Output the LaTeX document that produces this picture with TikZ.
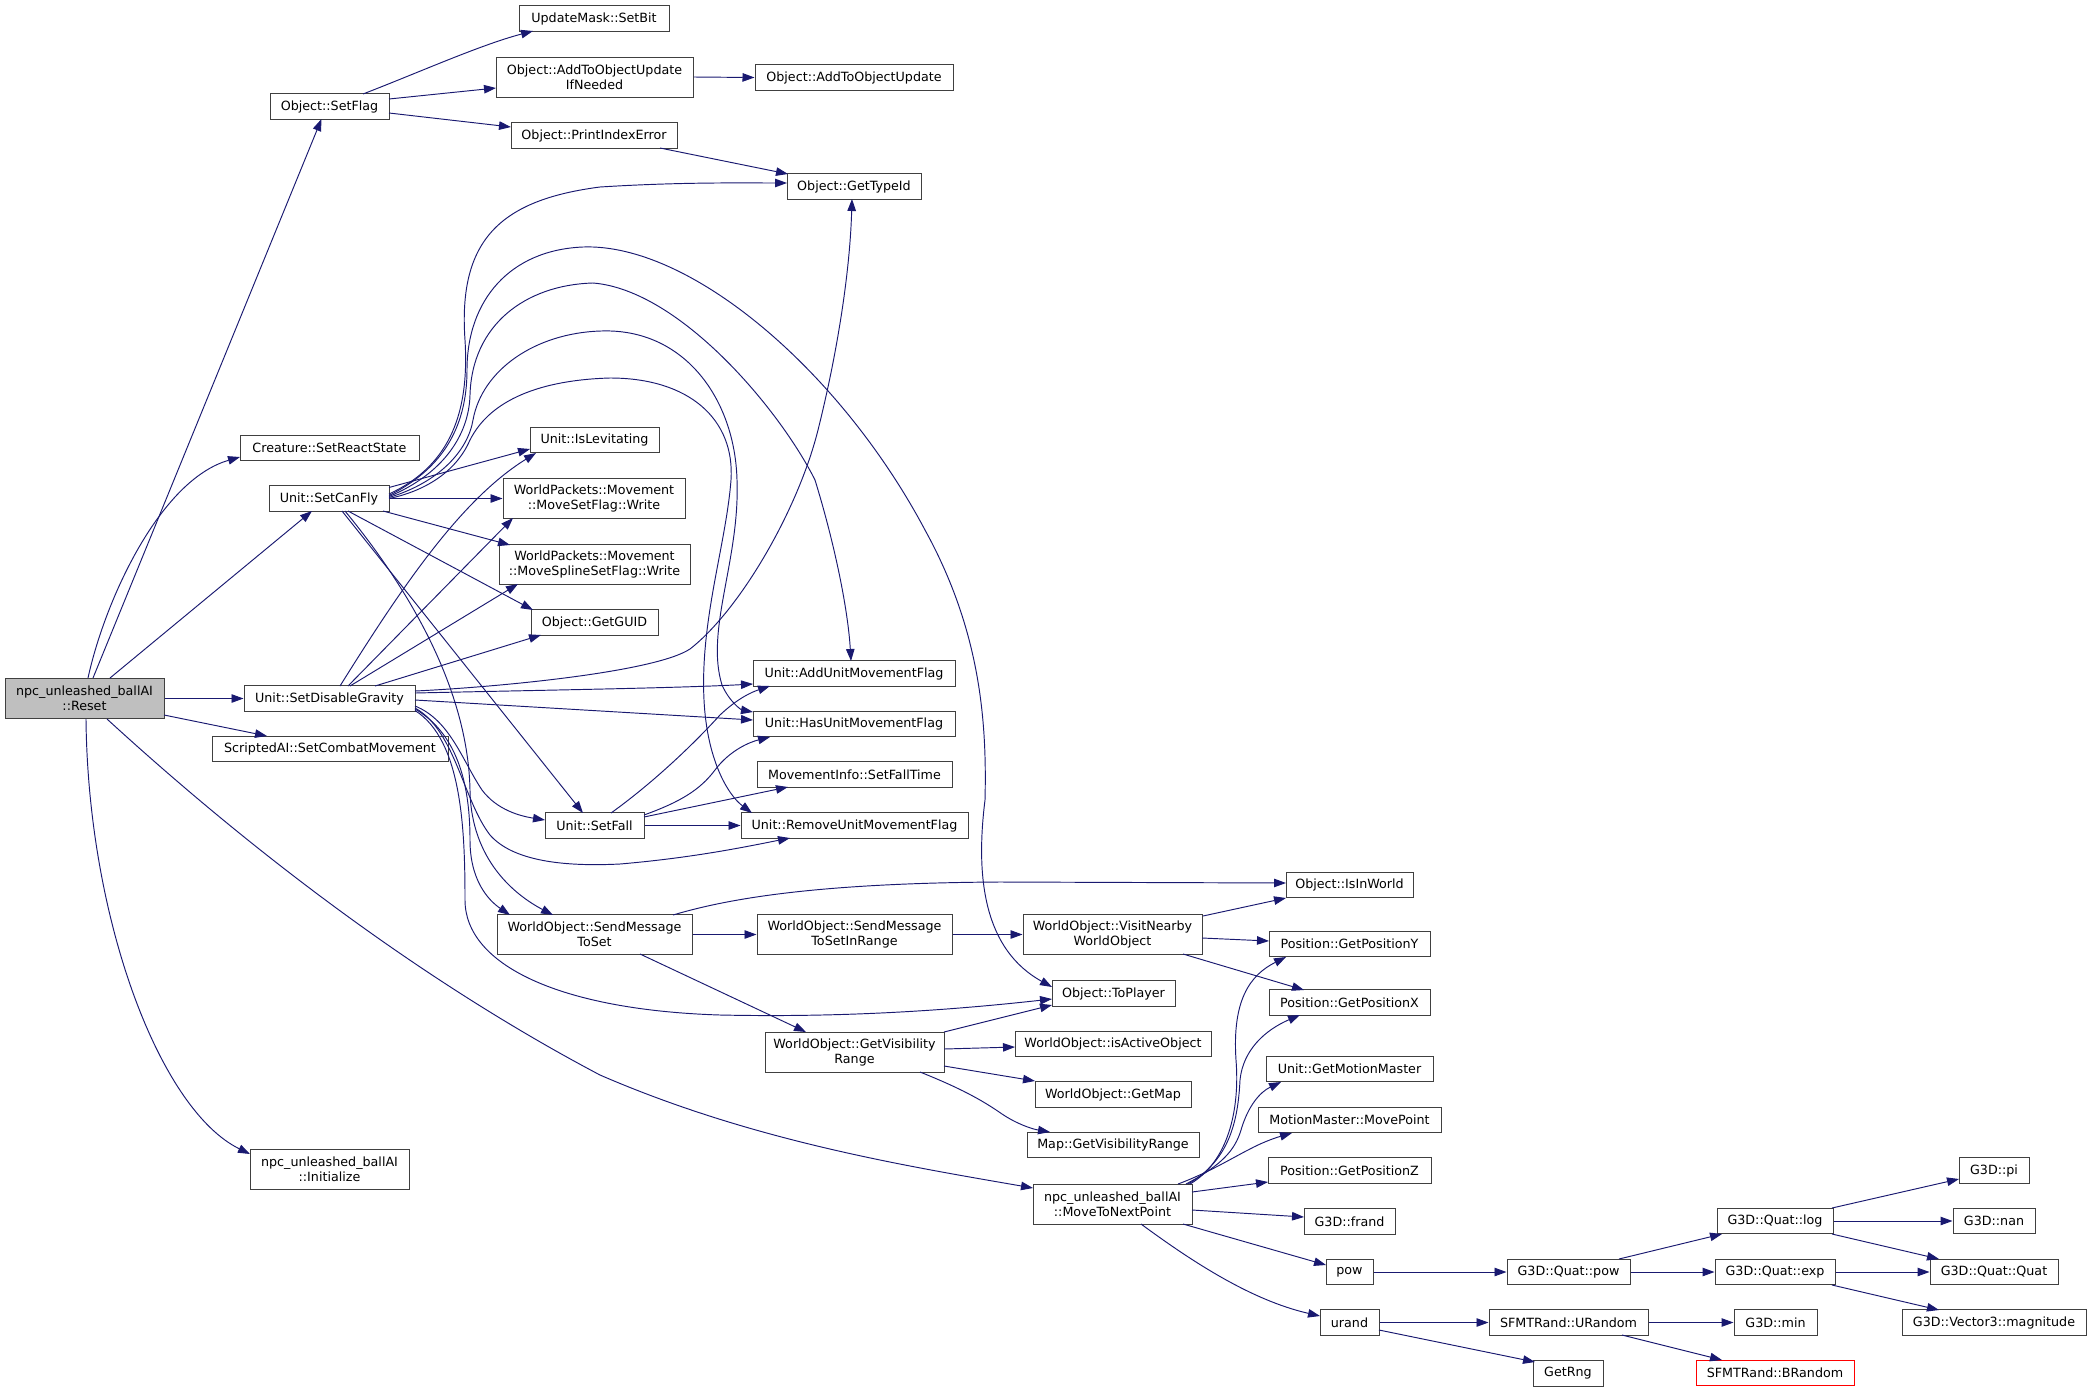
\documentclass[tikz,border=0pt]{standalone}
\usepackage{fontspec}
\setmainfont{DejaVu Sans}
\usetikzlibrary{arrows.meta}
\definecolor{edgecol}{HTML}{191970}
\definecolor{boxcol}{HTML}{404040}
\definecolor{rootfill}{HTML}{BFBFBF}
\tikzset{
 fn/.style={draw=boxcol, line width=1pt, inner sep=0pt, minimum height=25.5pt, font=\fontsize{12.7}{15}\selectfont, align=center, anchor=center, text=black},
 fntwo/.style={fn, minimum height=40pt},
 edge/.style={draw=edgecol, line width=0.95pt, -{Triangle[length=12pt,width=8.5pt]}},
}
\begin{document}
\begin{tikzpicture}[x=1pt,y=-1pt]
\useasboundingbox (0,0) rectangle (2092,1392);
% nodes
\node[fntwo, fill=rootfill, minimum width=159pt] (reset) at (84.5,698.5) {npc\_unleashed\_ballAI\\::Reset};
\node[fn, minimum width=119pt] (setflag) at (329.5,106.5) {Object::SetFlag};
\node[fn, minimum width=179pt] (react) at (329.5,448) {Creature::SetReactState};
\node[fn, minimum width=120pt] (canfly) at (329,498.5) {Unit::SetCanFly};
\node[fn, minimum width=171pt] (disgrav) at (329.5,698.5) {Unit::SetDisableGravity};
\node[fn, minimum width=236pt] (combat) at (330,749) {ScriptedAI::SetCombatMovement};
\node[fntwo, minimum width=159pt] (init) at (329.5,1169) {npc\_unleashed\_ballAI\\::Initialize};
\node[fn, minimum width=150pt] (setbit) at (594,18.5) {UpdateMask::SetBit};
\node[fntwo, minimum width=197pt] (addifn) at (594.5,77) {Object::AddToObjectUpdate\\IfNeeded};
\node[fn, minimum width=166pt] (printerr) at (594,135.5) {Object::PrintIndexError};
\node[fn, minimum width=198pt] (addupd) at (854,77.5) {Object::AddToObjectUpdate};
\node[fn, minimum width=134pt] (typeid) at (854,186.5) {Object::GetTypeId};
\node[fn, minimum width=129pt] (islev) at (594.5,440) {Unit::IsLevitating};
\node[fntwo, minimum width=182pt] (msf) at (594,498.5) {WorldPackets::Movement\\::MoveSetFlag::Write};
\node[fntwo, minimum width=191pt] (mssf) at (594.5,564) {WorldPackets::Movement\\::MoveSplineSetFlag::Write};
\node[fn, minimum width=127pt] (guid) at (594.5,622.5) {Object::GetGUID};
\node[fn, minimum width=99pt] (setfall) at (594.5,825.5) {Unit::SetFall};
\node[fntwo, minimum width=195pt] (sendset) at (594.5,934.5) {WorldObject::SendMessage\\ToSet};
\node[fn, minimum width=202pt] (addumf) at (854,673.5) {Unit::AddUnitMovementFlag};
\node[fn, minimum width=202pt] (hasumf) at (854,724) {Unit::HasUnitMovementFlag};
\node[fn, minimum width=195pt] (falltime) at (854.5,774.5) {MovementInfo::SetFallTime};
\node[fn, minimum width=227pt] (remumf) at (854.5,825.5) {Unit::RemoveUnitMovementFlag};
\node[fntwo, minimum width=195pt] (sendrange) at (854.5,934.5) {WorldObject::SendMessage\\ToSetInRange};
\node[fntwo, minimum width=179pt] (visrange) at (854.5,1052) {WorldObject::GetVisibility\\Range};
\node[fntwo, minimum width=179pt] (visit) at (1112.5,934.5) {WorldObject::VisitNearby\\WorldObject};
\node[fn, minimum width=123pt] (toplayer) at (1113.5,993.5) {Object::ToPlayer};
\node[fn, minimum width=196pt] (active) at (1113,1044) {WorldObject::isActiveObject};
\node[fn, minimum width=156pt] (getmap) at (1113,1094.5) {WorldObject::GetMap};
\node[fn, minimum width=172pt] (mapvis) at (1113,1145) {Map::GetVisibilityRange};
\node[fntwo, minimum width=159pt] (movenext) at (1112.5,1204) {npc\_unleashed\_ballAI\\::MoveToNextPoint};
\node[fn, minimum width=127pt] (inworld) at (1349.5,885) {Object::IsInWorld};
\node[fn, minimum width=161pt] (posy) at (1349.5,944) {Position::GetPositionY};
\node[fn, minimum width=161pt] (posx) at (1349.5,1002.5) {Position::GetPositionX};
\node[fn, minimum width=167pt] (motion) at (1349.5,1069) {Unit::GetMotionMaster};
\node[fn, minimum width=183pt] (movept) at (1349.5,1120) {MotionMaster::MovePoint};
\node[fn, minimum width=163pt] (posz) at (1349.5,1170.5) {Position::GetPositionZ};
\node[fn, minimum width=91pt] (frand) at (1349.5,1221.5) {G3D::frand};
\node[fn, minimum width=47pt] (pow) at (1349.5,1272) {pow};
\node[fn, minimum width=59pt] (urand) at (1349.5,1322.5) {urand};
\node[fn, minimum width=123pt] (qpow) at (1568.5,1272) {G3D::Quat::pow};
\node[fn, minimum width=159pt] (urandom) at (1568.5,1322.5) {SFMTRand::URandom};
\node[fn, minimum width=70pt] (getrng) at (1568,1373.5) {GetRng};
\node[fn, minimum width=116pt] (qlog) at (1775,1221) {G3D::Quat::log};
\node[fn, minimum width=120pt] (qexp) at (1775,1272) {G3D::Quat::exp};
\node[fn, minimum width=83pt] (gmin) at (1775.5,1322.5) {G3D::min};
\node[fn, minimum width=158pt, draw=red] (brandom) at (1775,1373) {SFMTRand::BRandom};
\node[fn, minimum width=70pt] (gpi) at (1994,1170.5) {G3D::pi};
\node[fn, minimum width=82pt] (gnan) at (1994,1221) {G3D::nan};
\node[fn, minimum width=128pt] (quat) at (1994,1272) {G3D::Quat::Quat};
\node[fn, minimum width=184pt] (magn) at (1994,1322.5) {G3D::Vector3::magnitude};
% edges from Reset
\draw[edge] ([shift={(8.5,-20.5)}]reset.center) -- ([shift={(-8,12.5)}]setflag.center);
\draw[edge] ([shift={(3.5,-20.5)}]reset.center) .. controls (105,600) and (160,480) .. ([shift={(-89.5,9)}]react.center);
\draw[edge] ([shift={(25.5,-20.5)}]reset.center) -- ([shift={(-17,12.5)}]canfly.center);
\draw[edge] (reset.east) -- (disgrav.west);
\draw[edge] ([shift={(79.5,16.5)}]reset.center) -- ([shift={(-63,-13)}]combat.center);
\draw[edge] ([shift={(22.5,20.5)}]reset.center) .. controls (250,850) and (420,980) .. (600,1075) .. controls (750,1140) and (900,1165) .. ([shift={(-79.5,-16)}]movenext.center);
\draw[edge] ([shift={(1.5,20.5)}]reset.center) .. controls (88,920) and (160,1110) .. ([shift={(-79.5,-15)}]init.center);
% SetFlag
\draw[edge] ([shift={(33.5,-12.5)}]setflag.center) .. controls (420,72) and (480,45) .. ([shift={(-61,12.5)}]setbit.center);
\draw[edge] ([shift={(59.5,-7.5)}]setflag.center) -- ([shift={(-98.5,11)}]addifn.center);
\draw[edge] ([shift={(59.5,6.5)}]setflag.center) -- ([shift={(-83,-8.5)}]printerr.center);
\draw[edge] (addifn.east) -- (addupd.west);
\draw[edge] ([shift={(66,12.5)}]printerr.center) -- ([shift={(-66,-12.5)}]typeid.center);
% SetCanFly
\draw[edge] ([shift={(60,-4.5)}]canfly.center) .. controls (445,468) and (470,420) .. (465,340) .. controls (458,240) and (500,200) .. (600,187) .. controls (680,182) and (740,183) .. ([shift={(-67,-3.5)}]typeid.center);
\draw[edge] ([shift={(60,-3)}]canfly.center) .. controls (440,470) and (467,430) .. (467,370) .. controls (467,300) and (510,250) .. (583,247) .. controls (690,243) and (840,370) .. (925,530) .. controls (980,630) and (987,720) .. (985,800) .. controls (975,880) and (985,950) .. ([shift={(-61.5,-6.5)}]toplayer.center);
\draw[edge] ([shift={(60,-2)}]canfly.center) .. controls (443,474) and (469,435) .. (470,395) .. controls (472,325) and (525,285) .. (593,283) .. controls (680,290) and (780,410) .. (815,480) .. controls (835,545) and (848,610) .. ([shift={(-3,-12.5)}]addumf.center);
\draw[edge] ([shift={(60,-1)}]canfly.center) .. controls (440,482) and (468,450) .. (473,420) .. controls (482,370) and (535,333) .. (601,331) .. controls (685,328) and (735,400) .. (737,480) .. controls (740,560) and (705,630) .. (722,685) .. controls (730,703) and (742,710) .. ([shift={(-101,-12)}]hasumf.center);
\draw[edge] ([shift={(60,0)}]canfly.center) .. controls (430,490) and (458,468) .. (470,440) .. controls (490,400) and (540,380) .. (610,378) .. controls (690,378) and (735,420) .. (731,480) .. controls (726,545) and (700,620) .. (704,700) .. controls (707,760) and (728,795) .. ([shift={(-102.5,-12.5)}]remumf.center);
\draw[edge] ([shift={(60,-11)}]canfly.center) -- ([shift={(-64.5,9)}]islev.center);
\draw[edge] (canfly.east) -- (msf.west);
\draw[edge] ([shift={(54,12.5)}]canfly.center) -- ([shift={(-84.5,-19)}]mssf.center);
\draw[edge] ([shift={(19,12.5)}]canfly.center) -- ([shift={(-61.5,-12.5)}]guid.center);
\draw[edge] ([shift={(13,12.5)}]canfly.center) -- ([shift={(-11.5,-12.5)}]setfall.center);
\draw[edge] ([shift={(16,12.5)}]canfly.center) .. controls (410,590) and (468,690) .. (470,790) .. controls (471,860) and (515,895) .. ([shift={(-41.5,-19.5)}]sendset.center);
% SetDisableGravity
\draw[edge] ([shift={(85.5,-7.5)}]disgrav.center) .. controls (500,687) and (655,672) .. (690,649) .. controls (740,610) and (798,510) .. (818,430) .. controls (838,350) and (850,270) .. ([shift={(-2,12.5)}]typeid.center);
\draw[edge] ([shift={(10.5,-12.5)}]disgrav.center) .. controls (400,590) and (460,500) .. ([shift={(-58.5,13)}]islev.center);
\draw[edge] ([shift={(18.5,-12.5)}]disgrav.center) -- ([shift={(-81,19.5)}]msf.center);
\draw[edge] ([shift={(20.5,-12.5)}]disgrav.center) -- ([shift={(-76.5,20)}]mssf.center);
\draw[edge] ([shift={(45.5,-12.5)}]disgrav.center) -- ([shift={(-53.5,12.5)}]guid.center);
\draw[edge] ([shift={(85.5,-5.5)}]disgrav.center) .. controls (550,690) and (680,688) .. ([shift={(-101,10.5)}]addumf.center);
\draw[edge] ([shift={(85.5,1.5)}]disgrav.center) -- ([shift={(-101,-4)}]hasumf.center);
\draw[edge] ([shift={(85.5,7.5)}]disgrav.center) .. controls (450,720) and (462,760) .. (482,790) .. controls (497,810) and (520,816) .. ([shift={(-49.5,-5.5)}]setfall.center);
\draw[edge] ([shift={(85.5,9.5)}]disgrav.center) .. controls (455,730) and (463,800) .. (490,835) .. controls (512,860) and (560,867) .. (620,864) .. controls (690,858) and (740,848) .. ([shift={(-64.5,12.5)}]remumf.center);
\draw[edge] ([shift={(85.5,10.5)}]disgrav.center) .. controls (460,735) and (470,790) .. (470,840) .. controls (470,880) and (488,900) .. ([shift={(-84.5,-19.5)}]sendset.center);
\draw[edge] ([shift={(85.5,12)}]disgrav.center) .. controls (462,740) and (465,830) .. (465,900) .. controls (465,965) and (560,1010) .. (720,1015) .. controls (860,1018) and (970,1008) .. ([shift={(-61.5,5.5)}]toplayer.center);
% SetFall
\draw[edge] ([shift={(16.5,-12.5)}]setfall.center) .. controls (650,785) and (690,748) .. (720,715) .. controls (738,698) and (752,692) .. ([shift={(-84,12.5)}]addumf.center);
\draw[edge] ([shift={(49.5,-10.5)}]setfall.center) .. controls (680,802) and (700,790) .. (715,770) .. controls (730,750) and (750,742) .. ([shift={(-84,13)}]hasumf.center);
\draw[edge] ([shift={(49.5,-8.5)}]setfall.center) -- ([shift={(-66.5,12.5)}]falltime.center);
\draw[edge] (setfall.east) -- (remumf.west);
% SendMessageToSet
\draw[edge] ([shift={(78.5,-19.5)}]sendset.center) .. controls (730,898) and (820,883) .. (1000,882) -- ([shift={(-63.5,-2)}]inworld.center);
\draw[edge] (sendset.east) -- (sendrange.west);
\draw[edge] ([shift={(45.5,19.5)}]sendset.center) -- ([shift={(-48.5,-20)}]visrange.center);
\draw[edge] (sendrange.east) -- (visit.west);
% Visit
\draw[edge] ([shift={(90.5,-18.5)}]visit.center) -- ([shift={(-63.5,13)}]inworld.center);
\draw[edge] ([shift={(89.5,3.5)}]visit.center) -- ([shift={(-80.5,-3)}]posy.center);
\draw[edge] ([shift={(70.5,19.5)}]visit.center) -- ([shift={(-45.5,-12.5)}]posx.center);
% GetVisibilityRange
\draw[edge] ([shift={(89.5,-20)}]visrange.center) -- ([shift={(-61.5,11.5)}]toplayer.center);
\draw[edge] ([shift={(89.5,-3)}]visrange.center) -- ([shift={(-98,3)}]active.center);
\draw[edge] ([shift={(89.5,14)}]visrange.center) -- ([shift={(-78,-13.5)}]getmap.center);
\draw[edge] ([shift={(65.5,20)}]visrange.center) .. controls (960,1088) and (982,1100) .. (1002,1114) .. controls (1017,1124) and (1032,1129) .. ([shift={(-63,-13)}]mapvis.center);
% MoveToNextPoint
\draw[edge] ([shift={(77.5,-20)}]movenext.center) .. controls (1228,1162) and (1240,1110) .. (1236,1060) .. controls (1232,1000) and (1250,975) .. ([shift={(-63.5,13)}]posy.center);
\draw[edge] ([shift={(75.5,-20)}]movenext.center) .. controls (1230,1160) and (1238,1120) .. (1240,1080) .. controls (1243,1050) and (1265,1030) .. ([shift={(-49.5,12.5)}]posx.center);
\draw[edge] ([shift={(73.5,-20)}]movenext.center) .. controls (1222,1165) and (1235,1150) .. (1241,1130) .. controls (1248,1106) and (1260,1092) .. ([shift={(-68.5,13)}]motion.center);
\draw[edge] ([shift={(65.5,-20)}]movenext.center) .. controls (1210,1172) and (1232,1158) .. (1250,1149) .. controls (1265,1141) and (1278,1137) .. ([shift={(-57.5,13)}]movept.center);
\draw[edge] ([shift={(79.5,-12)}]movenext.center) -- ([shift={(-81.5,11.5)}]posz.center);
\draw[edge] ([shift={(79.5,6)}]movenext.center) -- ([shift={(-45.5,-4.5)}]frand.center);
\draw[edge] ([shift={(70.5,20)}]movenext.center) -- ([shift={(-23.5,-7)}]pow.center);
\draw[edge] ([shift={(28.5,20)}]movenext.center) .. controls (1190,1260) and (1250,1300) .. ([shift={(-29.5,-6.5)}]urand.center);
% right part
\draw[edge] (pow.east) -- (qpow.west);
\draw[edge] ([shift={(50.5,-13)}]qpow.center) -- ([shift={(-53,13)}]qlog.center);
\draw[edge] (qpow.east) -- (qexp.west);
\draw[edge] ([shift={(57,-13)}]qlog.center) -- ([shift={(-35,8.5)}]gpi.center);
\draw[edge] (qlog.east) -- (gnan.west);
\draw[edge] ([shift={(57,13)}]qlog.center) -- ([shift={(-55,-13)}]quat.center);
\draw[edge] (qexp.east) -- (quat.west);
\draw[edge] ([shift={(57,13)}]qexp.center) -- ([shift={(-55,-12.5)}]magn.center);
\draw[edge] (urand.east) -- (urandom.west);
\draw[edge] ([shift={(29.5,7.5)}]urand.center) -- ([shift={(-33,-11.5)}]getrng.center);
\draw[edge] (urandom.east) -- (gmin.west);
\draw[edge] ([shift={(53.5,12.5)}]urandom.center) -- ([shift={(-53,-13)}]brandom.center);
\end{tikzpicture}
\end{document}
